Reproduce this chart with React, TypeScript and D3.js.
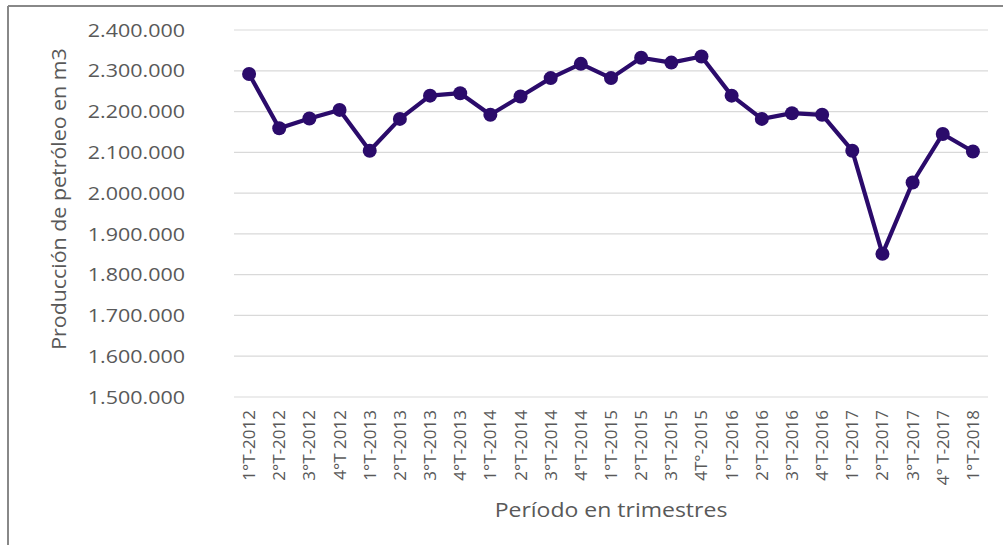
import React from "react";
import * as d3 from "d3";

const categories = [
  "1°T-2012", "2°T-2012", "3°T-2012", "4°T 2012",
  "1°T-2013", "2°T-2013", "3°T-2013", "4°T-2013",
  "1°T-2014", "2°T-2014", "3°T-2014", "4°T-2014",
  "1°T-2015", "2°T-2015", "3°T-2015", "4T°-2015",
  "1°T-2016", "2°T-2016", "3°T-2016", "4°T-2016",
  "1°T-2017", "2°T-2017", "3°T-2017", "4° T-2017",
  "1°T-2018",
];

const production = [
  2292000, 2159000, 2183000, 2204000,
  2104000, 2182000, 2239000, 2245000,
  2192000, 2237000, 2282000, 2317000,
  2282000, 2332000, 2320000, 2335000,
  2239000, 2182000, 2196000, 2192000,
  2104000, 1851000, 2026000, 2145000,
  2102000,
];

const yTicks = [1500000, 1600000, 1700000, 1800000, 1900000, 2000000, 2100000, 2200000, 2300000, 2400000];

const W = 1003;
const H = 545;
const FONT = "'Open Sans', sans-serif";
const LINE_COLOR = "#2b0b6b";
const TEXT_COLOR = "#595959";

export default function App() {
  const x = d3.scaleBand<string>().domain(categories).range([234, 988]);
  const y = d3.scaleLinear().domain([1500000, 2400000]).range([397, 30]);
  const locale = d3.formatLocale({ decimal: ",", thousands: ".", grouping: [3], currency: ["", ""] });
  const fmt = locale.format(",.0f");
  const cx = (c: string) => (x(c) as number) + x.bandwidth() / 2;
  const line = d3
    .line<number>()
    .x((_, i) => cx(categories[i]))
    .y((d) => y(d));

  return (
    <div style={{ position: "absolute", left: 0, top: 0 }}>
      <svg width={W} height={H} style={{ display: "block", background: "#fff" }}>
        <line x1={8} x2={W} y1={6} y2={6} stroke="#888" strokeWidth={2} />
        <line x1={8} x2={8} y1={6} y2={H} stroke="#888" strokeWidth={2} />
        {yTicks.map((t) => (
          <g key={t}>
            <line x1={234} x2={988} y1={y(t)} y2={y(t)} stroke="#d9d9d9" strokeWidth={1.2} />
            <text
              transform={`translate(185,${y(t)}) scale(1.13,1)`}
              dy="0.35em"
              textAnchor="end"
              fontFamily={FONT}
              fontSize={19}
              fill={TEXT_COLOR}
            >
              {fmt(t)}
            </text>
          </g>
        ))}
        {categories.map((c) => (
          <text
            key={c}
            transform={`translate(${cx(c) + 6},${410}) rotate(-90)`}
            textAnchor="end"
            fontFamily={FONT}
            fontSize={17}
            fill={TEXT_COLOR}
          >
            {c}
          </text>
        ))}
        <path d={line(production) || ""} fill="none" stroke={LINE_COLOR} strokeWidth={4.2} strokeLinejoin="round" />
        {production.map((v, i) => (
          <circle key={i} cx={cx(categories[i])} cy={y(v)} r={7} fill={LINE_COLOR} />
        ))}
        <text
          transform={`translate(611,517) scale(1.15,1)`}
          textAnchor="middle"
          fontFamily={FONT}
          fontSize={20}
          fill={TEXT_COLOR}
        >
          Período en trimestres
        </text>
        <text
          transform={`translate(66,199) rotate(-90) scale(1.07,1)`}
          textAnchor="middle"
          fontFamily={FONT}
          fontSize={20}
          fill={TEXT_COLOR}
        >
          Producción de petróleo en m3
        </text>
      </svg>
    </div>
  );
}
